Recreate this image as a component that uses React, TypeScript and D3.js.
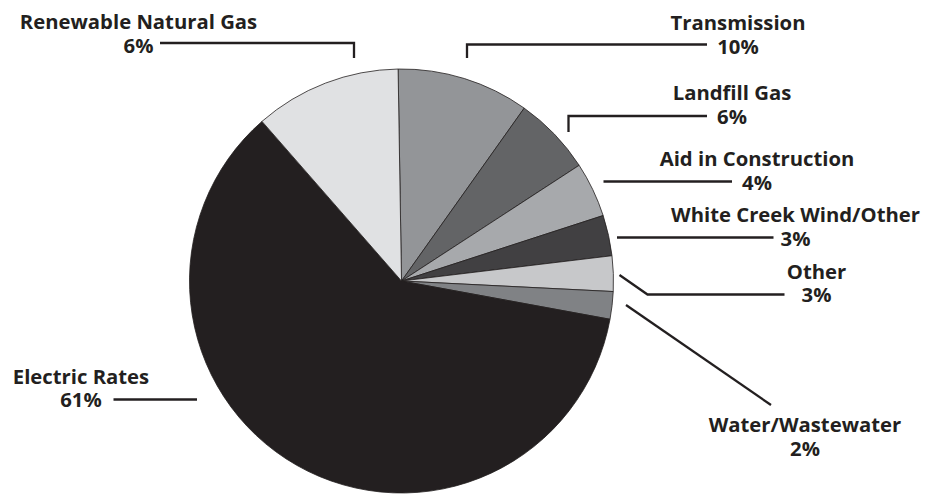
import { useEffect, useRef } from 'react';
import * as d3 from 'd3';

// slices clockwise from 12 o'clock
const categories = [
  'Transmission',
  'Landfill Gas',
  'Aid in Construction',
  'White Creek Wind/Other',
  'Other',
  'Water/Wastewater',
  'Electric Rates',
  'Renewable Natural Gas',
];
const sliceShares = [10.1, 6.0, 4.2, 3.1, 2.7, 2.1, 60.8, 11.2];
// percentages as printed in the labels
const labelPercents = [10, 6, 4, 3, 3, 2, 61, 6];
const sliceColours = [
  '#939598',
  '#636466',
  '#a7a9ac',
  '#414042',
  '#c7c8ca',
  '#808285',
  '#231f20',
  '#e0e1e3',
];

const WIDTH = 936;
const HEIGHT = 494;
const CX = 401.5;
const CY = 281;
const RADIUS = 212;
const INK = '#231f20';

interface LabelLayout {
  x: number;
  y: number;
  leader: [number, number][];
}

// annotation placement, same order as categories
const labelLayout: LabelLayout[] = [
  { x: 738, y: 30, leader: [[467, 58], [467, 44.5], [707, 44.5]] },
  { x: 732, y: 100, leader: [[568.5, 132], [568.5, 116], [707, 116]] },
  { x: 757, y: 166, leader: [[603.5, 181.5], [732, 181.5]] },
  { x: 795.5, y: 222, leader: [[617, 237.5], [773.5, 237.5]] },
  { x: 816.5, y: 278.5, leader: [[619.5, 275], [647.5, 294.5], [784.5, 294.5]] },
  { x: 805, y: 432, leader: [[626, 305], [771, 405]] },
  { x: 81, y: 383.5, leader: [[113.5, 399.5], [197, 399.5]] },
  { x: 138.5, y: 29, leader: [[160, 43], [354, 43], [354, 58]] },
];

export default function App() {
  const svgRef = useRef<SVGSVGElement>(null);

  useEffect(() => {
    if (!svgRef.current) return;
    const svg = d3.select(svgRef.current);
    svg.selectAll('*').remove();

    const items = categories.map((name, i) => ({
      name,
      share: sliceShares[i],
      percent: labelPercents[i],
      colour: sliceColours[i],
      layout: labelLayout[i],
    }));
    type Item = (typeof items)[number];

    const offset = -0.016;
    const pie = d3
      .pie<Item>()
      .sort(null)
      .value((d) => d.share)
      .startAngle(offset)
      .endAngle(Math.PI * 2 + offset);

    const arc = d3.arc<d3.PieArcDatum<Item>>().innerRadius(0).outerRadius(RADIUS);

    svg
      .append('g')
      .attr('transform', `translate(${CX},${CY})`)
      .selectAll('path')
      .data(pie(items))
      .join('path')
      .attr('d', arc)
      .attr('fill', (d) => d.data.colour)
      .attr('stroke', INK)
      .attr('stroke-width', 0.8)
      .attr('stroke-linejoin', 'round');

    const line = d3.line();

    svg
      .append('g')
      .selectAll('path')
      .data(items)
      .join('path')
      .attr('d', (d) => line(d.layout.leader))
      .attr('fill', 'none')
      .attr('stroke', INK)
      .attr('stroke-width', 2.3);

    // one text element per label, name and percentage as two tspans
    const labels = svg
      .append('g')
      .attr('font-family', "'Open Sans', sans-serif")
      .attr('font-weight', 700)
      .attr('font-size', 20.3)
      .attr('fill', INK)
      .attr('text-anchor', 'middle')
      .selectAll('text')
      .data(items)
      .join('text')
      .attr('x', (d) => d.layout.x)
      .attr('y', (d) => d.layout.y);

    labels
      .append('tspan')
      .attr('x', (d) => d.layout.x)
      .text((d) => d.name);

    labels
      .append('tspan')
      .attr('x', (d) => d.layout.x)
      .attr('dy', 23.5)
      .text((d) => `${d.percent}%`);
  }, []);

  return (
    <svg
      ref={svgRef}
      width={WIDTH}
      height={HEIGHT}
      viewBox={`0 0 ${WIDTH} ${HEIGHT}`}
      style={{ position: 'absolute', left: 0, top: 0, background: '#fff' }}
    />
  );
}
